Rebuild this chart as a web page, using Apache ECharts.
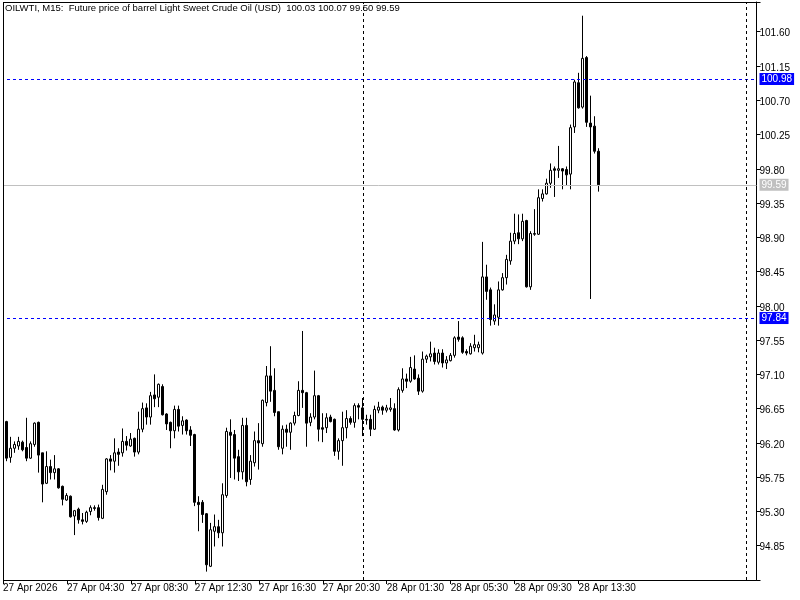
<!DOCTYPE html>
<html><head><meta charset="utf-8">
<script src="https://cdn.jsdelivr.net/npm/echarts@6/dist/echarts.min.js"></script>
<style>html,body{margin:0;padding:0;background:#fff}#c{width:800px;height:600px}</style>
</head><body><div id="c"></div>
<script>
const opens = [96.44,96.48,96.01,96.13,96.16,96.21,96.14,96.00,96.18,96.47,
96.07,95.67,95.89,95.81,95.86,95.63,95.45,95.50,95.24,95.33,
95.19,95.17,95.30,95.35,95.35,95.21,95.56,95.99,95.96,96.08,
96.07,96.22,96.16,96.26,96.08,96.38,96.66,96.54,96.83,96.80,
96.94,96.58,96.47,96.36,96.64,96.43,96.50,96.37,96.31,95.42,
95.42,95.27,94.58,95.04,95.10,95.02,95.51,96.34,96.31,96.02,
95.82,96.43,95.72,95.94,96.23,96.19,96.73,97.08,96.89,96.61,
96.13,96.38,96.34,96.46,96.56,96.89,96.86,96.47,96.54,96.82,
96.40,96.40,96.54,96.51,96.09,96.23,96.40,96.52,96.47,96.69,
96.66,96.51,96.51,96.38,96.63,96.67,96.63,96.64,96.65,96.37,
96.89,97.04,97.01,97.17,97.05,96.88,97.30,97.33,97.38,97.26,
97.38,97.25,97.28,97.35,97.59,97.58,97.40,97.37,97.45,97.45,
97.38,98.38,98.21,97.80,97.85,98.21,98.37,98.59,98.85,98.96,
98.88,99.12,98.25,98.94,98.94,99.41,99.47,99.61,99.80,99.78,
99.80,99.79,99.73,100.35,100.93,100.61,101.26,100.40,100.36,100.03];
const highs = [96.52,96.49,96.28,96.22,96.28,96.23,96.53,96.22,96.47,96.48,
96.07,96.09,95.98,96.04,95.87,95.64,95.54,95.51,95.32,95.35,
95.28,95.31,95.38,95.38,95.39,95.65,96.00,96.04,96.26,96.13,
96.39,96.29,96.33,96.27,96.61,96.73,96.72,96.87,97.10,96.98,
96.97,96.59,96.48,96.69,96.69,96.55,96.51,96.42,96.32,95.50,
95.45,95.28,95.15,95.26,95.19,95.67,96.40,96.51,96.37,96.11,
96.53,96.53,96.04,96.35,96.46,96.77,97.21,97.47,97.18,96.61,
96.43,96.44,96.47,96.61,97.01,97.67,96.87,96.59,97.15,96.83,
96.59,96.59,96.57,96.52,96.26,96.61,96.63,96.55,96.72,96.72,
96.79,96.57,96.57,96.69,96.74,96.69,96.70,96.79,96.72,96.93,
97.18,97.11,97.33,97.35,97.10,97.40,97.36,97.53,97.45,97.43,
97.43,97.34,97.38,97.60,97.80,97.60,97.43,97.51,97.62,97.53,
98.84,98.54,98.24,98.02,98.32,98.43,98.67,98.96,99.21,99.20,
99.21,99.13,98.98,99.27,99.53,99.53,99.67,99.87,99.83,100.10,
99.81,99.83,100.38,100.97,101.06,101.81,101.28,100.76,100.49,100.07];
const lows = [96.40,95.96,95.94,96.07,96.11,96.09,95.96,95.99,96.15,95.81,
95.42,95.66,95.72,95.72,95.60,95.38,95.44,95.22,94.99,95.14,
95.13,95.15,95.25,95.31,95.18,95.20,95.52,95.84,95.81,95.90,
96.02,96.10,96.15,96.02,96.05,96.34,96.44,96.44,96.67,96.67,
96.56,96.37,96.13,96.26,96.35,96.31,96.31,96.16,95.37,95.04,
95.15,94.51,94.57,94.84,94.95,94.84,95.48,95.74,95.72,95.70,
95.72,95.63,95.65,95.89,95.85,96.15,96.68,96.74,96.55,96.11,
96.05,96.15,96.11,96.43,96.55,96.66,96.15,96.42,96.51,96.22,
96.21,96.33,96.47,96.03,95.98,95.90,96.26,96.44,96.40,96.51,
96.29,96.44,96.29,96.37,96.59,96.57,96.60,96.61,96.36,96.35,
96.86,96.92,96.99,97.03,96.83,96.86,97.25,97.27,97.23,97.23,
97.19,97.17,97.27,97.32,97.53,97.37,97.35,97.36,97.40,97.39,
97.36,98.08,97.74,97.75,97.74,98.20,98.28,98.54,98.81,98.81,
98.85,98.24,98.21,98.92,98.93,99.37,99.46,99.55,99.43,99.68,
99.53,99.58,99.53,100.27,100.59,100.59,100.35,98.09,100.00,99.50];
const closes = [96.50,96.00,96.13,96.18,96.22,96.11,96.00,96.19,96.46,96.04,
95.66,95.89,95.81,95.86,95.61,95.46,95.51,95.23,95.31,95.19,
95.17,95.29,95.35,95.34,95.22,95.59,95.99,95.96,96.07,96.05,
96.22,96.17,96.25,96.08,96.38,96.65,96.54,96.82,96.78,96.97,
96.57,96.45,96.36,96.64,96.42,96.49,96.36,96.30,95.42,95.39,
95.26,94.60,95.06,95.10,95.02,95.52,96.35,96.30,96.00,95.82,
96.43,95.69,95.96,96.23,96.20,96.76,97.08,96.88,96.60,96.15,
96.38,96.34,96.46,96.56,96.89,96.86,96.46,96.54,96.82,96.38,
96.38,96.53,96.48,96.09,96.23,96.40,96.52,96.47,96.69,96.67,
96.51,96.50,96.38,96.64,96.67,96.63,96.66,96.66,96.37,96.90,
97.04,97.01,97.19,97.04,96.88,97.30,97.34,97.37,97.27,97.38,
97.25,97.29,97.35,97.58,97.56,97.39,97.38,97.47,97.49,97.49,
98.38,98.19,97.82,97.88,98.21,98.37,98.61,98.85,98.95,98.88,
99.11,98.25,98.95,98.95,99.42,99.47,99.61,99.78,99.78,99.80,
99.77,99.72,100.34,100.94,100.60,101.25,100.41,100.35,100.03,99.59];

const xTickLabels = ['27 Apr 2026','27 Apr 04:30','27 Apr 08:30','27 Apr 12:30','27 Apr 16:30',
  '27 Apr 20:30','28 Apr 01:30','28 Apr 05:30','28 Apr 09:30','28 Apr 13:30'];
const yTickLabels = ['94.85','95.30','95.75','96.20','96.65','97.10','97.55','98.00',
  '98.45','98.90','99.35','99.80','100.25','100.70','101.15','101.60'];
const levelLines = [100.98, 97.84];
const bidPrice = 99.59;
const titleText = 'OILWTI, M15:  Future price of barrel Light Sweet Crude Oil (USD)  100.03 100.07 99.50 99.59';

// time categories (15 min bars, one-hour session break), plus empty shift area
const TOTAL_SLOTS = 189;
const MONTHS = ['Jan','Feb','Mar','Apr','May','Jun','Jul','Aug','Sep','Oct','Nov','Dec'];
const categories = [];
let t = Date.UTC(2026, 3, 27, 0, 30);
for (let i = 0; i < TOTAL_SLOTS; i++) {
  let d = new Date(t);
  if (d.getUTCDate() === 28 && d.getUTCHours() === 0) { t += 3600000; d = new Date(t); }
  const p2 = n => String(n).padStart(2, '0');
  categories.push(d.getUTCDate() + ' ' + MONTHS[d.getUTCMonth()] + ' ' + p2(d.getUTCHours()) + ':' + p2(d.getUTCMinutes()));
  t += 900000;
}
const candleData = opens.map((o, i) => [o, closes[i], lows[i], highs[i]]);
const labelIdx = (idx) => idx % 16 === 0 && idx / 16 < xTickLabels.length;

const FONT = '"Liberation Sans", Arial, sans-serif';
const chart = echarts.init(document.getElementById('c'), null, {renderer: 'canvas'});
const boxLabel = (bg) => ({
  show: true, position: 'end', distance: 3,
  formatter: p => Number(p.value).toFixed(2),
  color: '#fff', backgroundColor: bg, fontSize: 10, fontFamily: FONT,
  lineHeight: 12, padding: [0, 2, 0, 2]
});
chart.setOption({
  animation: false,
  backgroundColor: '#fff',
  grid: {left: 0.5, right: 43.5, top: 2, bottom: 20, containLabel: false},
  xAxis: {
    type: 'category', data: categories, boundaryGap: true,
    axisLine: {show: true, lineStyle: {color: '#000', width: 1}},
    axisTick: {show: true, alignWithLabel: true, interval: labelIdx, length: 4, lineStyle: {color: '#000'}},
    axisLabel: {
      interval: labelIdx, align: 'left', margin: 3, color: '#000', fontSize: 10, fontFamily: FONT,
      formatter: (v, idx) => xTickLabels[idx / 16]
    },
    splitLine: {show: false}
  },
  yAxis: {
    type: 'value', position: 'right', scale: true,
    min: 94.40, max: 101.99, interval: 0.45,
    axisLine: {show: true, lineStyle: {color: '#000', width: 1}},
    axisTick: {show: true, inside: false, length: 4, lineStyle: {color: '#000'}},
    axisLabel: {
      margin: 3, color: '#000', fontSize: 10, fontFamily: FONT,
      verticalAlign: 'top', lineHeight: 4,
      formatter: v => {
        const m = yTickLabels.find(s => Math.abs(Number(s) - v) < 0.001);
        return m || '';
      }
    },
    splitLine: {show: false}
  },
  graphic: [
    {type: 'rect', shape: {x: 0, y: 0, width: 3, height: 600}, style: {fill: '#fff'}, z: 99, silent: true},
    {type: 'line', shape: {x1: 3, y1: 2.5, x2: 756, y2: 2.5}, style: {stroke: '#000', lineWidth: 1}, z: 100, silent: true},
    {type: 'line', shape: {x1: 3.5, y1: 2, x2: 3.5, y2: 580}, style: {stroke: '#000', lineWidth: 1}, z: 100, silent: true},
    {type: 'line', shape: {x1: 0, y1: 580.5, x2: 3, y2: 580.5}, style: {stroke: '#fff', lineWidth: 1}, z: 100, silent: true},
    {type: 'text', left: 5, top: 3, z: 100, silent: true,
     style: {text: titleText, fill: '#000', font: '9.5px ' + FONT}}
  ],
  series: [{
    type: 'candlestick',
    data: candleData,
    barWidth: 2.5,
    itemStyle: {
      color: '#ffffff', color0: '#000000',
      borderColor: '#000000', borderColor0: '#000000', borderColorDoji: '#000000',
      borderWidth: 1
    },
    markLine: {
      symbol: 'none', silent: true, animation: false,
      data: [
        {yAxis: levelLines[0], lineStyle: {color: '#0000ff', type: [3, 3], width: 1}, label: boxLabel('#0000ff')},
        {yAxis: levelLines[1], lineStyle: {color: '#0000ff', type: [3, 3], width: 1}, label: boxLabel('#0000ff')},
        {yAxis: bidPrice, lineStyle: {color: '#c0c0c0', type: 'solid', width: 1}, label: boxLabel('#c0c0c0')},
        {xAxis: 90, lineStyle: {color: '#000', type: [3, 3], width: 1}, label: {show: false}},
        {xAxis: 186, lineStyle: {color: '#000', type: [3, 3], width: 1}, label: {show: false}}
      ]
    }
  }]
});
</script></body></html>
